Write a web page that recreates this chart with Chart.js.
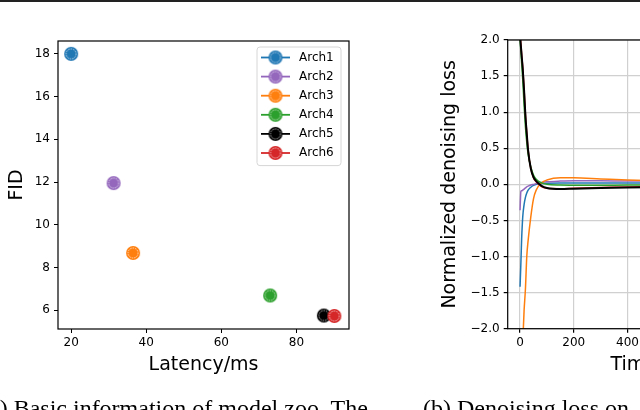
<!DOCTYPE html>
<html>
<head>
<meta charset="utf-8">
<script src="https://cdn.jsdelivr.net/npm/chart.js@4.4.1/dist/chart.umd.min.js"></script>
<style>
  html, body { margin: 0; padding: 0; width: 640px; height: 410px; overflow: hidden; background: #fff; position: relative; }
  #rule { position: absolute; left: 0; top: 0; width: 640px; height: 2px; background: #222; }
  canvas { position: absolute; top: 0; }
  #zoo { left: 0; }
  #loss { left: 400px; }
  .cap { position: absolute; top: 396px; font-family: "Liberation Serif", serif; font-size: 24px; line-height: 24px; white-space: nowrap; color: #000; }
</style>
</head>
<body>
<div id="rule"></div>
<canvas id="zoo" width="370" height="400"></canvas>
<canvas id="loss" width="420" height="400"></canvas>
<div class="cap" style="left:-19px">(a) Basic information of model zoo. The</div>
<div class="cap" style="left:423px">(b) Denoising loss on</div>
<script>
// ---- data: model zoo (latency vs FID) ----
const archNames = ["Arch1", "Arch2", "Arch3", "Arch4", "Arch5", "Arch6"];
const archColors = ["#1f77b4", "#9467bd", "#ff7f0e", "#2ca02c", "#000000", "#d62728"];
const latency = [20.0, 31.3, 36.5, 73.0, 87.3, 90.1];
const fid = [18.0, 11.95, 8.68, 6.69, 5.75, 5.73];
const zooXTicks = [20, 40, 60, 80];
const zooYTicks = [6, 8, 10, 12, 14, 16, 18];

// ---- data: normalized denoising loss over timesteps ----
const timesteps = [0, 3, 6, 10, 15, 20, 25, 30, 40, 50, 60, 80, 100, 150, 200, 300, 400, 500, 600, 800, 1000];
const lossArch1 = [-1.42, -1.1, -0.75, -0.45, -0.28, -0.18, -0.12, -0.08, -0.04, -0.015, 0.0, 0.01, 0.015, 0.02, 0.02, 0.02, 0.02, 0.02, 0.02, 0.018, 0.018];
const lossArch2 = [-0.36, -0.1, -0.09, -0.08, -0.065, -0.05, -0.035, -0.025, -0.01, 0.0, 0.01, 0.025, 0.035, 0.045, 0.05, 0.05, 0.045, 0.045, 0.04, 0.04, 0.035];
const lossArch3 = [-3.6, -3.0, -2.6, -2.2, -1.75, -1.45, -1.0, -0.78, -0.45, -0.2, -0.08, 0.02, 0.06, 0.09, 0.09, 0.075, 0.06, 0.05, 0.045, 0.04, 0.035];
const lossArch4 = [2.0, 1.85, 1.68, 1.45, 1.1, 0.8, 0.58, 0.42, 0.24, 0.13, 0.07, 0.02, 0.0, -0.01, -0.012, -0.012, -0.01, -0.01, -0.01, -0.01, -0.01];
const lossArch5 = [2.05, 1.92, 1.78, 1.6, 1.3, 0.95, 0.7, 0.47, 0.22, 0.1, 0.045, -0.02, -0.05, -0.065, -0.06, -0.05, -0.042, -0.038, -0.035, -0.03, -0.028];
const lossArch6 = [2.1, 1.95, 1.8, 1.62, 1.32, 0.97, 0.71, 0.48, 0.22, 0.09, 0.035, -0.03, -0.055, -0.06, -0.055, -0.045, -0.035, -0.03, -0.028, -0.025, -0.022];
const lossSeries = [lossArch1, lossArch2, lossArch3, lossArch4, lossArch5, lossArch6];
const lossXTicks = [0, 200, 400, 600, 800, 1000];
const lossYTicks = [-2.0, -1.5, -1.0, -0.5, 0.0, 0.5, 1.0, 1.5, 2.0];

Chart.defaults.font.family = "'DejaVu Sans', sans-serif";
Chart.defaults.color = "#000";
Chart.defaults.animation = false;

// round marker with a white dashed ring, like the matplotlib markers
function makeMarker(color, r) {
  const c = document.createElement("canvas");
  c.width = c.height = Math.ceil(r * 2 + 2);
  const g = c.getContext("2d");
  const m = c.width / 2;
  g.fillStyle = color;
  g.beginPath();
  g.arc(m, m, r, 0, Math.PI * 2);
  g.fill();
  g.strokeStyle = "rgba(255,255,255,0.85)";
  g.lineWidth = 0.8;
  g.setLineDash([1.5, 1]);
  g.beginPath();
  g.arc(m, m, r - 2, 0, Math.PI * 2);
  g.stroke();
  return c;
}
const markers = archColors.map((c) => makeMarker(c, 7));

const frame = {
  id: "frame",
  afterDatasetsDraw(chart) {
    const { ctx, chartArea: a } = chart;
    ctx.save();
    ctx.strokeStyle = "#000";
    ctx.lineWidth = 1.2;
    ctx.strokeRect(a.left, a.top, a.right - a.left, a.bottom - a.top);
    ctx.restore();
  },
};

// legend inside the plot: line + marker + label
const insideLegend = {
  id: "insideLegend",
  afterDraw(chart) {
    const { ctx, chartArea: a } = chart;
    const x0 = a.right - 92, y0 = a.top + 6, w = 84, row = 19.1;
    ctx.save();
    ctx.fillStyle = "rgba(255,255,255,0.8)";
    ctx.strokeStyle = "#d6d6d6";
    ctx.lineWidth = 1;
    ctx.beginPath();
    ctx.roundRect(x0, y0, w, row * archNames.length + 4, 3);
    ctx.fill();
    ctx.stroke();
    ctx.font = "12px 'DejaVu Sans'";
    ctx.textBaseline = "middle";
    archNames.forEach((name, i) => {
      const y = y0 + 10.5 + i * row;
      ctx.strokeStyle = archColors[i];
      ctx.lineWidth = 1.8;
      ctx.beginPath();
      ctx.moveTo(x0 + 4, y);
      ctx.lineTo(x0 + 33, y);
      ctx.stroke();
      ctx.drawImage(markers[i], x0 + 18.5 - markers[i].width / 2, y - markers[i].height / 2);
      ctx.fillStyle = "#000";
      ctx.fillText(name, x0 + 42, y);
    });
    ctx.restore();
  },
};

new Chart(document.getElementById("zoo"), {
  type: "scatter",
  data: {
    datasets: archNames.map((name, i) => ({
      label: name,
      data: [{ x: latency[i], y: fid[i] }],
      pointStyle: markers[i],
      pointRadius: 7,
      order: -i,
    })),
  },
  options: {
    responsive: false,
    layout: { padding: { left: 0, right: 21, top: 41, bottom: 24 } },
    plugins: { legend: { display: false }, tooltip: { enabled: false } },
    scales: {
      x: {
        type: "linear",
        min: 16.5,
        max: 94,
        afterBuildTicks: (s) => { s.ticks = zooXTicks.map((v) => ({ value: v })); },
        afterFit: (s) => { s.height = 47; },
        grid: { drawOnChartArea: false, tickLength: 4, tickColor: "#000" },
        border: { display: false },
        ticks: { padding: 3, font: { size: 12 }, maxRotation: 0 },
        title: { display: true, text: "Latency/ms", font: { size: 19 }, padding: { top: 0, bottom: 0 } },
      },
      y: {
        type: "linear",
        min: 5.12,
        max: 18.6,
        afterBuildTicks: (s) => { s.ticks = zooYTicks.map((v) => ({ value: v })); },
        afterFit: (s) => { s.width = 58; },
        grid: { drawOnChartArea: false, tickLength: 4, tickColor: "#000" },
        border: { display: false },
        ticks: { padding: 4, font: { size: 12 } },
        title: { display: true, text: "FID", font: { size: 19 }, padding: { top: 6, bottom: 0 } },
      },
    },
  },
  plugins: [frame, insideLegend],
});

new Chart(document.getElementById("loss"), {
  type: "line",
  data: {
    datasets: archNames.map((name, i) => ({
      label: name,
      data: timesteps.map((t, k) => ({ x: t, y: lossSeries[i][k] })),
      borderColor: archColors[i],
      borderWidth: i === 4 ? 2 : 1.5,
      pointRadius: 0,
      tension: 0.3,
      cubicInterpolationMode: "monotone",
      order: i === 4 ? -10 : -i,
    })),
  },
  options: {
    responsive: false,
    layout: { padding: { left: 0, right: 19, top: 40, bottom: 24 } },
    plugins: { legend: { display: false }, tooltip: { enabled: false } },
    scales: {
      x: {
        type: "linear",
        min: -46,
        max: 1046,
        afterBuildTicks: (s) => { s.ticks = lossXTicks.map((v) => ({ value: v })); },
        afterFit: (s) => { s.height = 47.3; },
        grid: { color: "#d0d0d0", lineWidth: 1.2, tickLength: 4, tickColor: "#000" },
        border: { display: false },
        ticks: { padding: 3, font: { size: 12 }, maxRotation: 0 },
        title: { display: true, text: "Timestep", font: { size: 19 }, padding: { top: 0, bottom: 0 } },
      },
      y: {
        type: "linear",
        min: -2,
        max: 2,
        afterBuildTicks: (s) => { s.ticks = lossYTicks.map((v) => ({ value: v })); },
        afterFit: (s) => { s.width = 107.7; },
        grid: { color: "#d0d0d0", lineWidth: 1.2, tickLength: 4, tickColor: "#000" },
        border: { display: false },
        ticks: {
          padding: 4,
          font: { size: 12 },
          callback: (v) => v.toFixed(1).replace("-", "\u2212"),
        },
        title: { display: true, text: "Normalized denoising loss", font: { size: 19 }, padding: { top: 38.6, bottom: 0 } },
      },
    },
  },
  plugins: [frame],
});
</script>
</body>
</html>
